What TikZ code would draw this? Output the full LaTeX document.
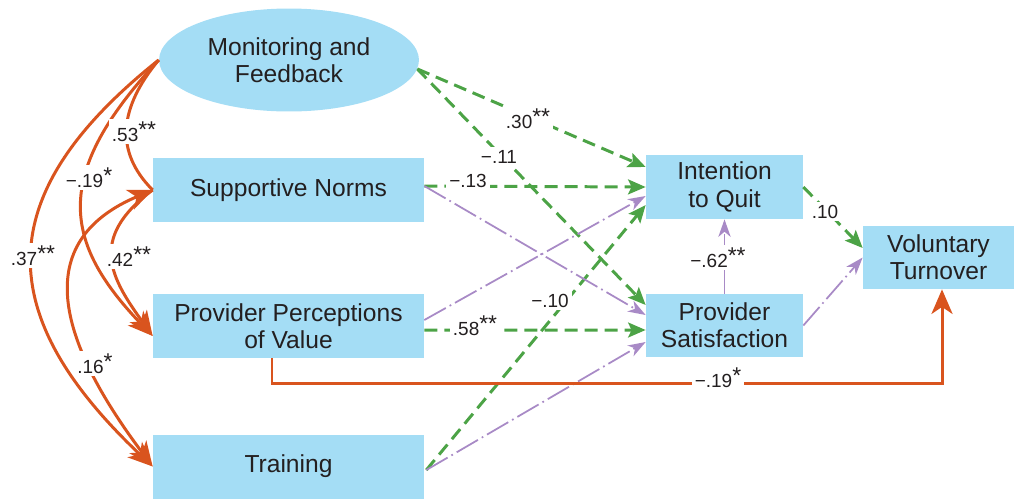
\documentclass[tikz,border=0pt]{standalone}
\usepackage{fontspec}
\setmainfont{Liberation Sans}
\usetikzlibrary{arrows.meta,calc,shapes.geometric}
\definecolor{boxblue}{RGB}{164,221,245}
\definecolor{corange}{RGB}{217,84,30}
\definecolor{cgreen}{RGB}{76,163,70}
\definecolor{cpurple}{RGB}{168,138,198}
\definecolor{txt}{RGB}{35,31,32}
\newcommand{\sig}[1]{\raisebox{2pt}{\fontsize{13}{13}\selectfont#1}}
\tikzset{
  bigtip/.tip={Stealth[length=14pt,width=12pt,inset=4pt]},
  factor/.style={fill=boxblue, text=txt, inner sep=0pt, align=center, font=\fontsize{14}{15.5}\selectfont},
  factorbox/.style={factor, rectangle, minimum height=1.28cm},
  coef/.style={fill=white, text=txt, inner sep=1.8pt, anchor=base, font=\fontsize{10.8}{12}\selectfont},
  orangepath/.style={draw=corange, line width=1.7pt, -bigtip},
  greenpath/.style={draw=cgreen, line width=1.7pt, dash pattern=on 7.4pt off 4pt, -{Stealth[length=10pt,width=8.5pt,inset=2pt]}},
  purplepath/.style={draw=cpurple, line width=1pt, dash pattern=on 14pt off 2.5pt on 1pt off 2.5pt, -{Stealth[length=10pt,width=7pt,inset=3pt]}}
}
\begin{document}
\begin{tikzpicture}[x=0.02cm,y=-0.02cm]
	\useasboundingbox (0,0) rectangle (1014,498);
	\node[factor, ellipse, minimum width=5.2cm, minimum height=2.06cm] (MF) at (289,60) {Monitoring and\\Feedback};
	\node[factorbox, minimum width=5.42cm] (SN) at (288.5,190) {Supportive Norms};
	\node[factorbox, minimum width=5.42cm] (PPV) at (288.5,326) {Provider Perceptions\\of Value};
	\node[factorbox, minimum width=5.42cm] (TR) at (288.5,466.5) {Training};
	\node[factorbox, minimum width=3.14cm] (IQ) at (724.5,187) {Intention\\to Quit};
	\node[factorbox, minimum width=3.14cm, minimum height=1.26cm] (PS) at (724.5,325.5) {Provider\\Satisfaction};
	\node[factorbox, minimum width=3.02cm, minimum height=1.26cm] (VT) at (938.5,257.5) {Voluntary\\Turnover};
	\draw[greenpath] (MF.-4) -- ($(IQ.west)+(0,-20)$);
	\draw[greenpath] (MF.-4) -- ($(PS.west)+(0,-20.5)$);
	\draw[greenpath] ($(SN.east)+(0,-4)$) -- (IQ.west);
	\draw[greenpath] ($(PPV.east)+(0,4)$) -- ($(PS.west)+(0,4.5)$);
	\draw[greenpath] ($(TR.east)+(2,3.5)$) -- ($(IQ.west)+(0,18)$);
	\draw[greenpath] (IQ.east) -- ($(VT.west)+(0,-9.5)$);
	\draw[purplepath] ($(SN.east)+(0,-4)$) -- ($(PS.west)+(0,-10.5)$);
	\draw[purplepath] ($(PPV.east)+(0,-6)$) -- ($(IQ.west)+(0,9)$);
	\draw[purplepath] ($(TR.east)+(2,3.5)$) -- ($(PS.west)+(0,16.5)$);
	\draw[purplepath] (PS.north) -- (IQ.south);
	\draw[purplepath] (PS.east) -- (VT.west);
	\draw[orangepath] ($(PPV.south)+(-16.5,0)$) -- ++(0,25) -| ($(VT.south)+(3.5,0)$);
	\draw[orangepath] (MF.west) .. controls +(-167,133) and +(-163,-154) .. (TR.west);
	\draw[orangepath,-] (MF.west) .. controls +(-39,47) and +(-39,-39) .. (SN.west);
	\draw[orangepath] (MF.west) .. controls +(-106,114) and +(-91,-95) .. ($(PPV.west)+(0,10)$);
	\draw[orangepath] (SN.west) .. controls +(-66,49) and +(-41,-57) .. ($(PPV.west)+(0,10)$);
	\draw[orangepath,bigtip-bigtip] (SN.west) .. controls +(-116,49) and +(-103,-137) .. (TR.west);
	\node[coef] (c30) at (528,128) {.30\sig{**}};
	\node[coef] (c11) at (499,163) {−.11};
	\node[coef] (c13) at (468,187) {−.13};
	\node[coef] (c58) at (475,335) {.58\sig{**}};
	\node[coef] (c10b) at (550,307) {−.10};
	\node[coef] (c62) at (718,267) {−.62\sig{**}};
	\node[coef] (c10) at (825,218) {.10};
	\node[coef] (c19b) at (718,387) {−.19\sig{*}};
	\node[coef] (c53) at (134,141) {.53\sig{**}};
	\node[coef] (c19) at (89,187) {−.19\sig{*}};
	\node[coef] (c37) at (33,265) {.37\sig{**}};
	\node[coef] (c42) at (129,266) {.42\sig{**}};
	\node[coef] (c16) at (95,373) {.16\sig{*}};
\end{tikzpicture}
\end{document}
